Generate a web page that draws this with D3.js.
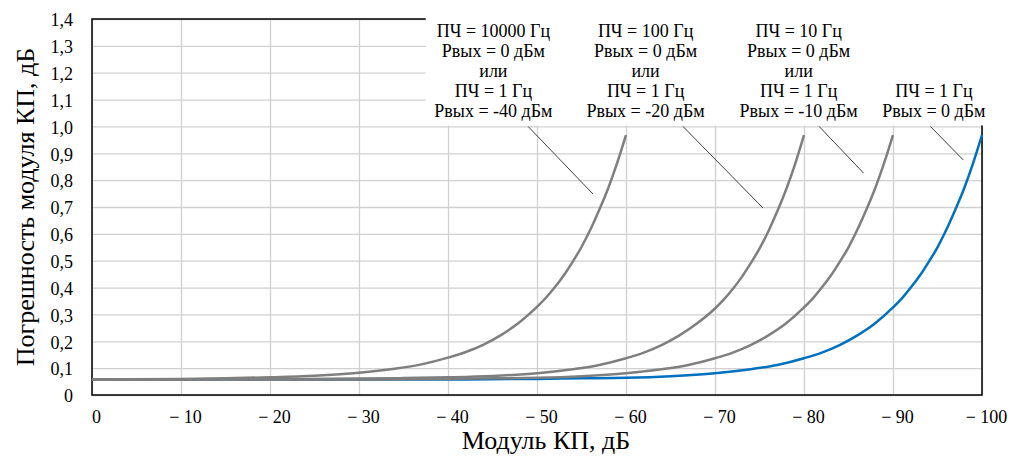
<!DOCTYPE html>
<html>

<head>
    <meta charset="UTF-8">
    <title>Погрешность модуля КП</title>
    <style>
        body { margin: 0; background: #fff; }
        svg text { font-family: "Liberation Serif", "Times New Roman", serif; fill: #000; }
    </style>
</head>

<body>

    <svg id="chart"></svg>

    <script src="https://cdn.jsdelivr.net/npm/d3@7"></script>
    <script>
        // данные
        const xTicks = [0, -10, -20, -30, -40, -50, -60, -70, -80, -90, -100];
        const yTicks = [0, 0.1, 0.2, 0.3, 0.4, 0.5, 0.6, 0.7, 0.8, 0.9, 1.0, 1.1, 1.2, 1.3, 1.4];

        // ПЧ = 1 Гц, Рвых = 0 дБм
        const kp1Hz = [0, -10, -20, -30, -40, -50, -55, -60, -65, -70, -74, -77, -80, -82, -84, -86, -88, -90, -91, -92, -93, -94, -95, -96, -97, -98, -99, -100];
        const err1Hz = [0.058, 0.058, 0.058, 0.058, 0.058, 0.060, 0.062, 0.064, 0.070, 0.081, 0.096, 0.112, 0.137, 0.158, 0.186, 0.222, 0.267, 0.326, 0.360, 0.400, 0.444, 0.495, 0.550, 0.616, 0.690, 0.770, 0.863, 0.968];

        // ПЧ = 10 Гц
        const kp10Hz = [0, -10, -20, -30, -40, -45, -50, -55, -60, -64, -67, -70, -72, -74, -76, -78, -80, -81, -82, -83, -84, -85, -86, -87, -88, -89, -90];
        const err10Hz = [0.058, 0.058, 0.058, 0.058, 0.060, 0.062, 0.064, 0.070, 0.081, 0.096, 0.112, 0.137, 0.158, 0.186, 0.222, 0.267, 0.326, 0.360, 0.400, 0.444, 0.495, 0.550, 0.616, 0.690, 0.770, 0.863, 0.968];

        // ПЧ = 100 Гц
        const kp100Hz = [0, -10, -20, -30, -35, -40, -45, -50, -54, -57, -60, -62, -64, -66, -68, -70, -71, -72, -73, -74, -75, -76, -77, -78, -79, -80];
        const err100Hz = [0.058, 0.058, 0.059, 0.061, 0.063, 0.066, 0.071, 0.081, 0.096, 0.112, 0.137, 0.158, 0.186, 0.222, 0.267, 0.322, 0.356, 0.395, 0.439, 0.490, 0.545, 0.610, 0.684, 0.766, 0.860, 0.968];

        // ПЧ = 10000 Гц
        const kp10000Hz = [0, -10, -15, -20, -25, -30, -34, -37, -40, -42, -44, -46, -48, -50, -51, -52, -53, -54, -55, -56, -57, -58, -59, -60];
        const err10000Hz = [0.058, 0.060, 0.062, 0.066, 0.072, 0.083, 0.098, 0.114, 0.139, 0.160, 0.188, 0.224, 0.270, 0.328, 0.362, 0.401, 0.445, 0.496, 0.551, 0.616, 0.690, 0.770, 0.863, 0.968];

        const annoLines = [
            ['ПЧ = 10000 Гц', 'Рвых = 0 дБм', 'или', 'ПЧ = 1 Гц', 'Рвых = -40 дБм'],
            ['ПЧ = 100 Гц', 'Рвых = 0 дБм', 'или', 'ПЧ = 1 Гц', 'Рвых = -20 дБм'],
            ['ПЧ = 10 Гц', 'Рвых = 0 дБм', 'или', 'ПЧ = 1 Гц', 'Рвых = -10 дБм'],
            ['', '', '', 'ПЧ = 1 Гц', 'Рвых = 0 дБм']
        ];
        // середина подписи по оси КП
        const annoKp = [-45.1, -62.2, -79.4, -94.6];
        // выноски: [КП, погрешность] начала и конца
        const leaderFrom = [[-49.0, 1.0], [-66.4, 1.0], [-81.7, 1.0], [-94.2, 1.0]];
        const leaderTo = [[-56.3, 0.748], [-75.4, 0.696], [-86.7, 0.826], [-97.9, 0.875]];

        const width = 1014;
        const height = 462;
        const pl = 92, pr = 982, pt = 19, pb = 395;
        const serif = '"Liberation Serif", "Times New Roman", serif';

        const svg = d3.select('#chart')
            .attr('width', width)
            .attr('height', height)
            .attr('font-family', serif);

        svg.append('rect')
            .attr('width', width)
            .attr('height', height)
            .attr('fill', '#fff');

        const x = d3.scaleLinear().domain([0, -100]).range([pl, pr]);
        const y = d3.scaleLinear().domain([0, 1.4]).range([pb, pt]);

        // сетка и подписи осей
        const gx = svg.append('g')
            .attr('transform', `translate(0,${pb})`)
            .call(d3.axisBottom(x)
                .tickValues(xTicks)
                .tickSize(-(pb - pt))
                .tickPadding(15)
                .tickFormat(d => d === 0 ? '0' : '\u2212 ' + Math.abs(d)))
            .attr('font-family', serif)
            .attr('font-size', 18);
        gx.select('.domain').remove();
        gx.selectAll('line').attr('stroke', '#d0d0d0').attr('stroke-width', 1.3);
        gx.selectAll('text')
            .attr('dx', 4)
            .attr('fill', '#000');

        const gy = svg.append('g')
            .attr('transform', `translate(${pl},0)`)
            .call(d3.axisLeft(y)
                .tickValues(yTicks)
                .tickSize(-(pr - pl))
                .tickPadding(19)
                .tickFormat(d => d === 0 ? '0' : d3.format('.1f')(d).replace('.', ',')))
            .attr('font-family', serif)
            .attr('font-size', 18);
        gy.select('.domain').remove();
        gy.selectAll('line').attr('stroke', '#d0d0d0').attr('stroke-width', 1.3);
        gy.selectAll('text')
            .attr('dy', '0.38em')
            .attr('fill', '#000');

        // рамка
        svg.append('rect')
            .attr('x', pl)
            .attr('y', pt)
            .attr('width', pr - pl)
            .attr('height', pb - pt)
            .attr('fill', 'none')
            .attr('stroke', '#000')
            .attr('stroke-width', 1.5);

        const line = d3.line()
            .x(d => x(d[0]))
            .y(d => y(d[1]))
            .curve(d3.curveMonotoneX);

        const series = [
            { kp: kp1Hz, err: err1Hz, color: '#0070c0' },
            { kp: kp10Hz, err: err10Hz, color: '#7f7f7f' },
            { kp: kp100Hz, err: err100Hz, color: '#7f7f7f' },
            { kp: kp10000Hz, err: err10000Hz, color: '#7f7f7f' }
        ];

        svg.append('g')
            .selectAll('path')
            .data(series)
            .enter()
            .append('path')
            .attr('d', s => line(s.kp.map((k, i) => [k, s.err[i]])))
            .attr('fill', 'none')
            .attr('stroke', s => s.color)
            .attr('stroke-width', 2.5);

        // белое поле под подписями
        svg.append('rect')
            .attr('x', x(-37.5))
            .attr('y', 0)
            .attr('width', width - x(-37.5))
            .attr('height', y(1.0) - 1)
            .attr('fill', '#fff');

        // выноски
        svg.append('g')
            .selectAll('line')
            .data(leaderFrom)
            .enter()
            .append('line')
            .attr('x1', d => x(d[0]))
            .attr('y1', d => y(d[1]))
            .attr('x2', (d, i) => x(leaderTo[i][0]))
            .attr('y2', (d, i) => y(leaderTo[i][1]))
            .attr('stroke', '#404040')
            .attr('stroke-width', 1);

        const anno = svg.append('g')
            .selectAll('text')
            .data(annoLines)
            .enter()
            .append('text')
            .attr('text-anchor', 'middle')
            .attr('font-size', 18)
            .attr('x', (d, i) => x(annoKp[i]));
        anno.selectAll('tspan')
            .data((d, i) => d.map(t => ({ t, i })))
            .enter()
            .append('tspan')
            .attr('x', d => x(annoKp[d.i]))
            .attr('y', (d, j) => 37 + j * 20)
            .text(d => d.t);

        // названия осей
        svg.append('text')
            .attr('x', 546)
            .attr('y', 449)
            .attr('text-anchor', 'middle')
            .attr('font-size', 26)
            .text('Модуль КП, дБ');

        svg.append('text')
            .attr('transform', 'translate(34,207) rotate(-90)')
            .attr('text-anchor', 'middle')
            .attr('font-size', 26)
            .text('Погрешность модуля КП, дБ');
    </script>
</body>

</html>
